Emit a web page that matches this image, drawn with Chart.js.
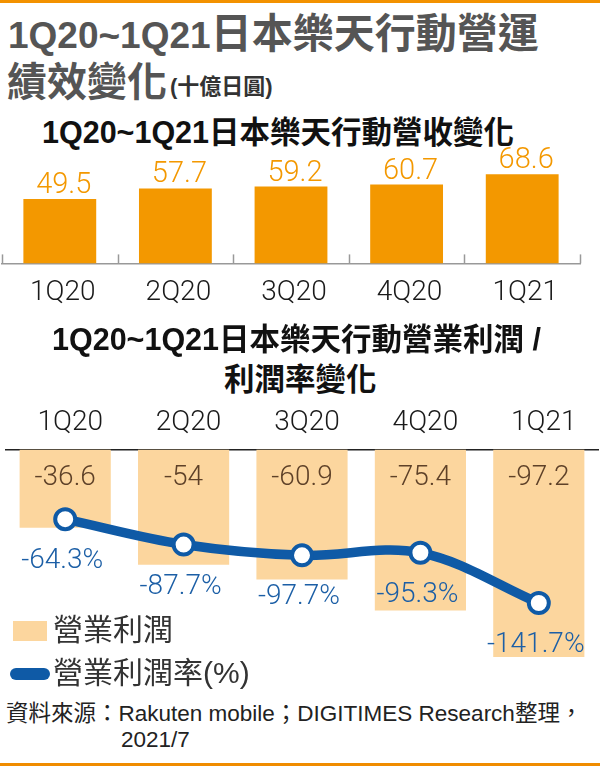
<!DOCTYPE html>
<html>
<head>
<meta charset="utf-8">
<script src="https://cdn.jsdelivr.net/npm/chart.js@4.4.1/dist/chart.umd.min.js"></script>
<style>
body{margin:0;width:600px;height:766px;position:relative;overflow:hidden;background:#fff;
  font-family:"Liberation Sans","Noto Sans CJK TC",sans-serif;}
.abs{position:absolute;white-space:nowrap;}
canvas{position:absolute;left:0;}
</style>
</head>
<body>
<div class="abs" style="left:0;top:0;width:600px;height:3px;background:#f39200"></div>
<div class="abs" style="left:8px;top:14px;font-size:41px;line-height:41px;font-weight:bold;color:#555"><span style="font-size:37px">1Q20~1Q21</span>日本樂天行動營運</div>
<div class="abs" style="left:7px;top:62px;font-size:40px;line-height:40px;font-weight:bold;color:#555">績效變化<span style="font-size:22px;color:#333;vertical-align:2px;margin-left:3px">(十億日圓)</span></div>
<div class="abs" style="left:42px;top:117px;font-size:30.5px;line-height:30.5px;font-weight:bold;color:#111">1Q20~1Q21日本樂天行動營收變化</div>

<canvas id="revChart" width="600" height="183" style="top:140px"></canvas>

<div class="abs" style="left:52px;top:324px;font-size:30.5px;line-height:30.5px;font-weight:bold;color:#111">1Q20~1Q21日本樂天行動營業利潤 /</div>
<div class="abs" style="left:224px;top:364px;font-size:30.5px;line-height:30.5px;font-weight:bold;color:#111">利潤率變化</div>

<canvas id="profitChart" width="600" height="304" style="top:396px"></canvas>

<div class="abs" style="left:13px;top:621px;width:34px;height:20px;background:#fcd69e"></div>
<div class="abs" style="left:53px;top:615px;font-size:30px;line-height:30px;color:#333">營業利潤</div>
<div class="abs" style="left:10px;top:668px;width:40px;height:12px;border-radius:6px;background:#0f5aa6"></div>
<div class="abs" style="left:53px;top:658px;font-size:30px;line-height:30px;color:#333">營業利潤率(%)</div>

<div class="abs" style="left:6px;top:703px;font-size:22.5px;line-height:22.5px;color:#222">資料來源：Rakuten mobile；DIGITIMES Research整理，</div>
<div class="abs" style="left:121px;top:729px;font-size:22.5px;line-height:22.5px;color:#222">2021/7</div>
<div class="abs" style="left:0;top:763px;width:600px;height:3px;background:#f08c00"></div>

<script>
const quarters = ["1Q20", "2Q20", "3Q20", "4Q20", "1Q21"];
const revenue = [49.5, 57.7, 59.2, 60.7, 68.6];
const operatingProfit = [-36.6, -54, -60.9, -75.4, -97.2];
const operatingMargin = [-64.3, -87.7, -97.7, -95.3, -141.7];

const numFont = 'Roboto, "Liberation Sans", sans-serif';

// value above each revenue bar
const revenueLabels = {
    id: 'revenueLabels',
    afterDatasetsDraw(chart) {
        const ctx = chart.ctx;
        ctx.save();
        ctx.font = '300 29px ' + numFont;
        ctx.fillStyle = '#f39800';
        ctx.textAlign = 'center';
        ctx.textBaseline = 'alphabetic';
        chart.getDatasetMeta(0).data.forEach(function (bar, i) {
            ctx.fillText(revenue[i].toFixed(1), bar.x + 4, bar.y - 6);
        });
        ctx.restore();
    }
};

// small marks between categories on the revenue axis
const boundaryTicks = {
    id: 'boundaryTicks',
    afterDraw(chart) {
        const ctx = chart.ctx;
        const x = chart.scales.x;
        const bottom = chart.chartArea.bottom;
        const step = (x.right - x.left) / quarters.length;
        ctx.save();
        ctx.strokeStyle = '#999';
        ctx.lineWidth = 1.5;
        for (let i = 0; i <= quarters.length; i++) {
            const px = Math.round(x.left + i * step) + 0.5;
            ctx.beginPath();
            ctx.moveTo(px, bottom);
            ctx.lineTo(px, bottom - 9);
            ctx.stroke();
        }
        ctx.restore();
    }
};

// profit values inside the bars, margin values under the points
const profitLabels = {
    id: 'profitLabels',
    afterDatasetsDraw(chart) {
        const ctx = chart.ctx;
        ctx.save();
        ctx.font = '300 28px ' + numFont;
        ctx.textAlign = 'center';
        ctx.textBaseline = 'alphabetic';
        const bars = chart.getDatasetMeta(1).data;
        ctx.fillStyle = '#5e4128';
        bars.forEach(function (bar, i) {
            ctx.fillText(String(operatingProfit[i]), bar.x, bar.base + 35);
        });
        const pts = chart.getDatasetMeta(0).data;
        ctx.fillStyle = '#1c5fa6';
        pts.forEach(function (pt, i) {
            ctx.fillText(operatingMargin[i].toFixed(1) + '%', pt.x - 3, pt.y + 49);
        });
        ctx.restore();
    }
};

new Chart(document.getElementById('revChart'), {
    type: 'bar',
    data: {
        labels: quarters,
        datasets: [{
            data: revenue,
            backgroundColor: '#f39800',
            barPercentage: 0.63,
            categoryPercentage: 1
        }]
    },
    options: {
        responsive: false,
        animation: false,
        layout: { autoPadding: false, padding: { left: 2, right: 20, top: 0, bottom: 0 } },
        plugins: { legend: { display: false }, tooltip: { enabled: false } },
        scales: {
            x: {
                grid: { drawOnChartArea: false, drawTicks: false, tickLength: 0 },
                border: { display: true, color: '#999', width: 1.5 },
                ticks: { color: '#1a1a1a', font: { size: 28, family: numFont, weight: 300 }, padding: 13, labelOffset: 3 }
            },
            y: { display: false, min: 0, max: 95 }
        }
    },
    plugins: [revenueLabels, boundaryTicks]
});

new Chart(document.getElementById('profitChart'), {
    type: 'bar',
    data: {
        labels: quarters,
        datasets: [{
            type: 'line',
            data: operatingMargin,
            yAxisID: 'y2',
            order: 0,
            borderColor: '#0f5aa6',
            borderWidth: 9.5,
            tension: 0.35,
            pointRadius: 10,
            pointBorderWidth: 4,
            pointBackgroundColor: '#fff',
            pointBorderColor: '#0f5aa6'
        }, {
            type: 'bar',
            data: operatingProfit,
            yAxisID: 'y',
            order: 1,
            backgroundColor: '#fcd69e',
            barPercentage: 0.77,
            categoryPercentage: 1
        }]
    },
    options: {
        responsive: false,
        animation: false,
        layout: { autoPadding: false, padding: { left: 6, right: 2, top: 0, bottom: 0 } },
        plugins: { legend: { display: false }, tooltip: { enabled: false } },
        scales: {
            x: {
                position: 'top',
                grid: { drawOnChartArea: false, drawTicks: false, tickLength: 0 },
                border: { display: true, color: '#222', width: 1.5 },
                ticks: { color: '#1a1a1a', font: { size: 28, family: numFont, weight: 300 }, padding: 10, labelOffset: 5 }
            },
            y: { display: false, min: -117.4, max: 0 },
            y2: { display: false, min: -231.3, max: 0 }
        }
    },
    plugins: [profitLabels]
});
</script>
</body>
</html>
